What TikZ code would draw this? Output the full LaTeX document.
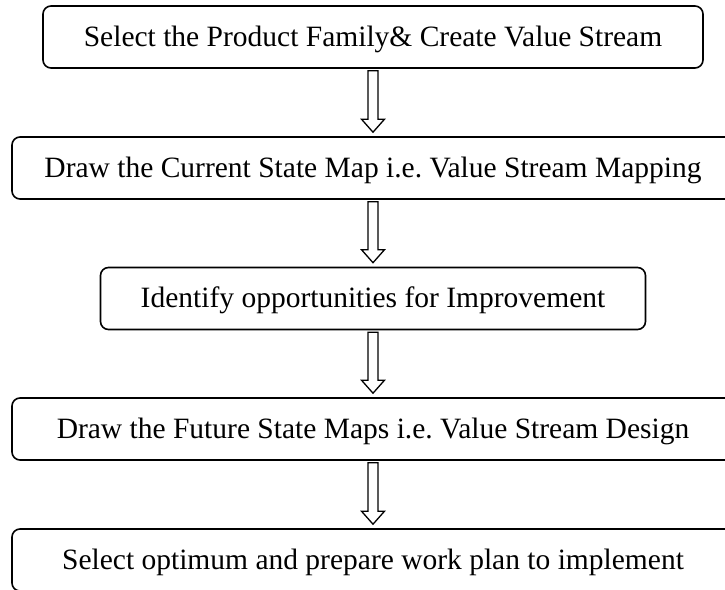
\documentclass[tikz,border=0pt]{standalone}
\usepackage{fontspec}
\setmainfont{Liberation Serif}
\frenchspacing
\usetikzlibrary{positioning}
\usetikzlibrary{calc}

\begin{document}
\begin{tikzpicture}[x=1pt, y=-1pt,
    stepbox/.style={draw, line width=1.6pt, rounded corners=8pt, inner sep=0pt,
        minimum height=62pt, text height=20pt, text depth=2pt,
        font=\fontsize{29.5}{34}\selectfont},
    hollowarrow/.style={line width=1.3pt, line join=miter, to path={
        ($(\tikztostart)+(-5,2)$) -- ($(\tikztotarget)+(-5,-17)$) --
        ($(\tikztotarget)+(-11.5,-17)$) -- ($(\tikztotarget)+(0,-4)$) --
        ($(\tikztotarget)+(11.5,-17)$) -- ($(\tikztotarget)+(5,-17)$) --
        ($(\tikztostart)+(5,2)$) -- cycle}}]
    \useasboundingbox (0,0) rectangle (725,589);

    \node[stepbox, minimum width=660pt] (family)  at (373,37)    {Select the Product Family\& Create Value Stream};
    \node[stepbox, minimum width=722pt] (current) at (373,168)   {Draw the Current State Map i.e. Value Stream Mapping};
    \node[stepbox, minimum width=545pt] (improve) at (373,298.5) {Identify opportunities for Improvement};
    \node[stepbox, minimum width=722pt] (future)  at (373,429)   {Draw the Future State Maps i.e. Value Stream Design};
    \node[stepbox, minimum width=722pt] (plan)    at (373,560)   {Select optimum and prepare work plan to implement};

    \draw[hollowarrow] (family.south)  to (current.north);
    \draw[hollowarrow] (current.south) to (improve.north);
    \draw[hollowarrow] (improve.south) to (future.north);
    \draw[hollowarrow] (future.south)  to (plan.north);
\end{tikzpicture}
\end{document}
